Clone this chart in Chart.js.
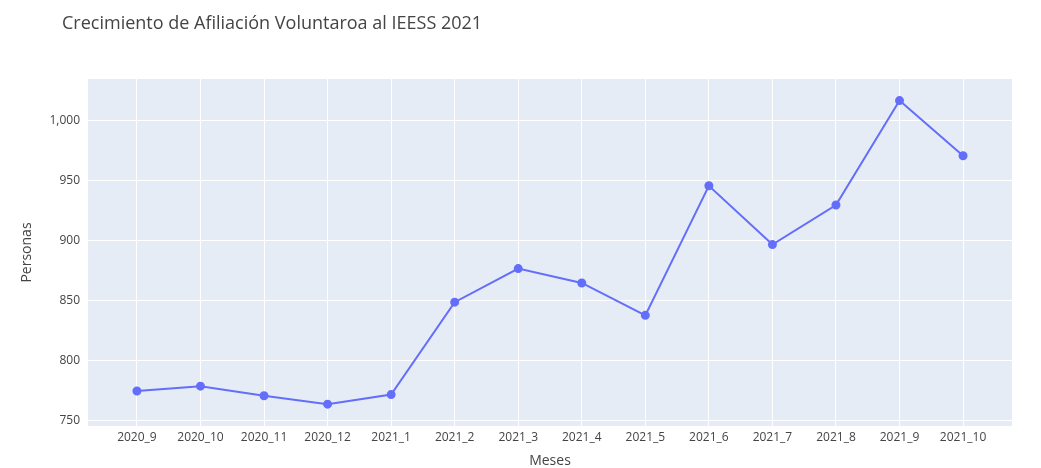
<!DOCTYPE html>
<html><head><meta charset="utf-8">
<script src="https://cdn.jsdelivr.net/npm/chart.js@4"></script>
<style>html,body{margin:0;padding:0;background:#fff}#w{width:1041px;height:468px}</style>
</head><body><div id="w"><canvas id="c"></canvas></div>
<script>
const categories=["2020_9","2020_10","2020_11","2020_12","2021_1","2021_2","2021_3","2021_4","2021_5","2021_6","2021_7","2021_8","2021_9","2021_10"];
const personas=[775,779,771,764,772,849,877,865,838,946,897,930,1017,971];
const yTicks=[750,800,850,900,950,1000];
const F='"Open Sans", "DejaVu Sans", sans-serif';
const deco={id:'deco',
 beforeDraw(ch){const {ctx,chartArea:a}=ch;ctx.save();ctx.fillStyle='#E5ECF6';ctx.fillRect(a.left,a.top,a.right-a.left,a.bottom-a.top);ctx.restore();},
 afterDraw(ch){const {ctx,chartArea:a}=ch;ctx.save();ctx.fillStyle='#444';
  ctx.font='18px '+F;ctx.textBaseline='middle';ctx.textAlign='left';ctx.fillText('Crecimiento de Afiliación Voluntaroa al IEESS 2021',62,24);
  ctx.font='14px '+F;ctx.textAlign='center';ctx.fillText('Meses',(a.left+a.right)/2,461);
  ctx.translate(27,(a.top+a.bottom)/2);ctx.rotate(-Math.PI/2);ctx.fillText('Personas',0,0);ctx.restore();}};
new Chart(document.getElementById('c'),{type:'line',
 data:{datasets:[{data:personas.map((v,i)=>({x:i,y:v})),borderColor:'#636EFA',backgroundColor:'#636EFA',borderWidth:2,pointRadius:3.5,pointHoverRadius:3.5,tension:0}]},
 options:{responsive:true,maintainAspectRatio:false,animation:false,
  layout:{padding:{top:79,right:29,left:0,bottom:0}},
  plugins:{legend:{display:false},tooltip:{enabled:false}},
  scales:{
   x:{type:'linear',min:-0.77,max:13.77,afterFit(s){s.height=42;},
    afterBuildTicks(s){s.ticks=categories.map((c,i)=>({value:i}));},
    ticks:{callback:(v)=>categories[v],color:'#444',font:{family:F,size:12},padding:4,maxRotation:0,autoSkip:false},
    grid:{color:'#fff',lineWidth:1,drawTicks:false},border:{display:false}},
   y:{min:745.8,max:1035,afterFit(s){s.width=88;},
    afterBuildTicks(s){s.ticks=yTicks.map(v=>({value:v}));},
    ticks:{color:'#444',font:{family:F,size:12},padding:8},
    grid:{color:'#fff',lineWidth:1,drawTicks:false},border:{display:false}}}},
 plugins:[deco]});
</script></body></html>
